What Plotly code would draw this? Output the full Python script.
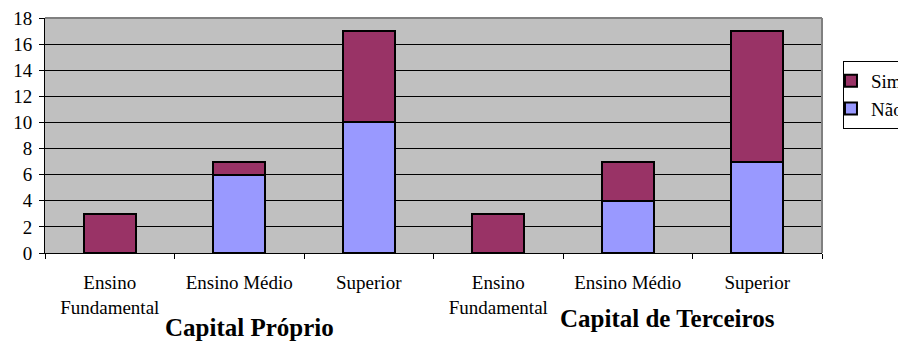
import plotly.graph_objects as go

# Education level of respondents, split by source of capital
group_names = ["Capital Próprio", "Capital de Terceiros"]
category_ids = ["cp_ef", "cp_em", "cp_sup", "ct_ef", "ct_em", "ct_sup"]
category_labels = ["Ensino<br>Fundamental", "Ensino Médio", "Superior",
                   "Ensino<br>Fundamental", "Ensino Médio", "Superior"]
nao_values = [0, 6, 10, 0, 4, 7]
sim_values = [3, 1, 7, 3, 3, 10]

SIM_COLOR = "#993366"
NAO_COLOR = "#9999FF"
FONT = "Liberation Serif"

fig = go.Figure()
fig.add_trace(go.Bar(x=category_ids, y=nao_values, name="Não",
                     marker=dict(color=NAO_COLOR, line=dict(color="black", width=2))))
fig.add_trace(go.Bar(x=category_ids, y=sim_values, name="Sim",
                     marker=dict(color=SIM_COLOR, line=dict(color="black", width=2))))

fig.update_layout(
    width=898, height=341,
    barmode="stack", bargap=0.6,
    paper_bgcolor="white", plot_bgcolor="#C0C0C0",
    margin=dict(l=45, r=76, t=18, b=88, autoexpand=False),
    font=dict(family=FONT, size=19, color="black"),
    legend=dict(x=1.027, xanchor="left", y=0.817, yanchor="top",
                traceorder="reversed", bgcolor="white",
                bordercolor="black", borderwidth=1,
                indentation=-13, font=dict(family=FONT, size=19)),
    showlegend=True,
)

fig.update_xaxes(
    type="category", tickvals=category_ids, ticktext=category_labels,
    tickson="boundaries", ticks="outside", ticklen=5, tickcolor="black",
    ticklabelstandoff=12,
    showline=True, linecolor="black", linewidth=1, showgrid=False,
)
fig.update_yaxes(
    range=[0, 18], dtick=2, ticks="outside", ticklen=5, tickcolor="black",
    ticklabelstandoff=3,
    showline=True, linecolor="black", linewidth=1,
    showgrid=True, gridcolor="black", gridwidth=1, zeroline=False,
)

# grey frame on top and right of the plot area
fig.add_shape(type="line", xref="paper", yref="paper", x0=0, x1=1, y0=1, y1=1,
              line=dict(color="#808080", width=2))
fig.add_shape(type="line", xref="paper", yref="paper", x0=1, x1=1, y0=0, y1=1,
              line=dict(color="#808080", width=2))

# group titles under each block of three categories
fig.add_annotation(text="<b>" + group_names[0] + "</b>", xref="x", x=category_ids[1],
                   xshift=10, yref="paper", y=-0.315, yanchor="middle",
                   showarrow=False, font=dict(family=FONT, size=25))
fig.add_annotation(text="<b>" + group_names[1] + "</b>", xref="x", x=category_ids[4],
                   xshift=40, yref="paper", y=-0.277, yanchor="middle",
                   showarrow=False, font=dict(family=FONT, size=25))

fig.write_html("out.html")
